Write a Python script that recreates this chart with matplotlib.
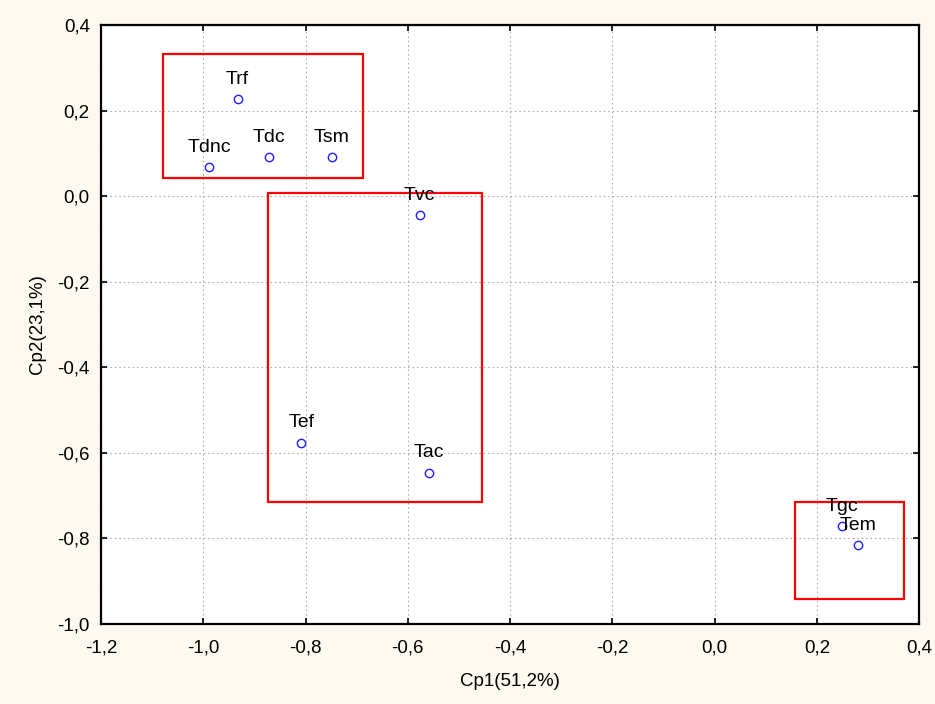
import matplotlib
matplotlib.use("Agg")
import matplotlib.pyplot as plt
from matplotlib.patches import Rectangle
from matplotlib.ticker import FuncFormatter

plt.rcParams['font.family'] = ['Liberation Sans', 'DejaVu Sans']

# points (Cp1, Cp2)
labels = ['Trf', 'Tdnc', 'Tdc', 'Tsm', 'Tvc', 'Tef', 'Tac', 'Tgc', 'Tem']
cp1 = [-0.933, -0.988, -0.871, -0.749, -0.577, -0.808, -0.558, 0.250, 0.281]
cp2 = [0.226, 0.068, 0.092, 0.092, -0.044, -0.576, -0.646, -0.772, -0.815]

# groups (x0, x1, y0, y1)
box_x0 = [-1.078, -0.873, 0.158]
box_x1 = [-0.688, -0.455, 0.371]
box_y0 = [0.042, -0.716, -0.942]
box_y1 = [0.332, 0.007, -0.716]

fig = plt.figure(figsize=(9.35, 7.04), dpi=100, facecolor='#fdf9f0')
ax = fig.add_axes([0.108, 0.1136, 0.875, 0.851])
ax.set_facecolor('white')

ax.plot(cp1, cp2, 'o', mfc='none', mec='#1f1fff', ms=6, mew=1.0, zorder=3)
for lb, x, y in zip(labels, cp1, cp2):
    ax.annotate(lb, (x, y), xytext=(0, 8), textcoords='offset points',
                ha='center', va='bottom', fontsize=14, zorder=4)

for x0, x1, y0, y1 in zip(box_x0, box_x1, box_y0, box_y1):
    ax.add_patch(Rectangle((x0, y0), x1 - x0, y1 - y0, fill=False,
                           ec='#ff0000', lw=1.6, zorder=2))

ax.set_xlim(-1.2, 0.4)
ax.set_ylim(-1.0, 0.4)
ax.set_xticks([-1.2, -1.0, -0.8, -0.6, -0.4, -0.2, 0.0, 0.2, 0.4])
ax.set_yticks([-1.0, -0.8, -0.6, -0.4, -0.2, 0.0, 0.2, 0.4])
fmt = FuncFormatter(lambda v, p: f"{v:.1f}".replace('.', ',').replace('-0,0', '0,0'))
ax.xaxis.set_major_formatter(fmt)
ax.yaxis.set_major_formatter(fmt)
ax.tick_params(direction='in', length=4, width=1.2, labelsize=13.5,
               top=True, right=True)
ax.tick_params(axis='x', pad=11)
ax.tick_params(axis='y', pad=8)
ax.grid(True, linestyle=(0, (1.5, 2.5)), color='#b0b0b0', lw=0.8)
for s in ax.spines.values():
    s.set_linewidth(1.6)

ax.set_xlabel('Cp1(51,2%)', fontsize=13.5, labelpad=12)
ax.set_ylabel('Cp2(23,1%)', fontsize=13.5, labelpad=8)

fig.savefig('out.png', dpi=100, facecolor=fig.get_facecolor())
